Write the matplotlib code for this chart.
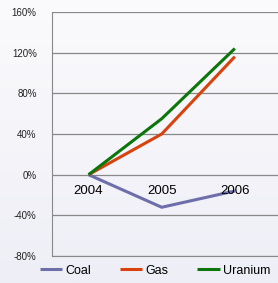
import matplotlib.pyplot as plt
import numpy as np

years = ["2004", "2005", "2006"]
coal = [0, -32, -16]
gas = [0, 40, 116]
uranium = [0, 55, 124]
yticks = [-80, -40, 0, 40, 80, 120, 160]

fig = plt.figure(figsize=(2.78, 2.83), dpi=100)
# faint bluish background like the slide
bg = fig.add_axes([0, 0, 1, 1], zorder=-10)
grad = np.linspace(0, 1, 256).reshape(-1, 1)
bg.imshow(grad, aspect="auto", cmap=plt.matplotlib.colors.LinearSegmentedColormap.from_list(
    "bg", ["#fbfbfd", "#eeeef6"]), extent=[0, 1, 0, 1])
bg.axis("off")

ax = fig.add_axes([0.187, 0.095, 0.813, 0.863])
ax.patch.set_alpha(0)
x = np.arange(len(years))
ax.plot(x, coal, color="#6e6eaa", lw=2.2, label="Coal", solid_capstyle="butt")
ax.plot(x, gas, color="#d8420c", lw=2.2, label="Gas", solid_capstyle="butt")
ax.plot(x, uranium, color="#0b760b", lw=2.2, label="Uranium", solid_capstyle="butt")

ax.set_ylim(-80, 160)
ax.set_xlim(-0.5, 2.59)
ax.set_yticks(yticks)
ax.set_yticklabels([f"{v}%" for v in yticks], fontsize=7, color="#222222",
                   family="Liberation Sans")
ax.tick_params(axis="y", length=0, pad=11)
ax.set_xticks([])
for v in yticks:
    ax.axhline(v, color="#888888", lw=0.9, zorder=0)
for i, yr in enumerate(years):
    ax.text(x[i], -10, yr, ha="center", va="top", fontsize=9.5, family="Liberation Sans")
for s in ["top", "right"]:
    ax.spines[s].set_visible(False)
ax.spines["left"].set_color("#888888")
ax.spines["bottom"].set_color("#888888")

ax.legend(loc="upper center", bbox_to_anchor=(0.455, -0.035), ncol=3, frameon=False,
          prop={"family": "Liberation Sans", "size": 9}, handlelength=1.8,
          columnspacing=2.3, handletextpad=0.25, borderaxespad=0, borderpad=0)

fig.savefig("out.png", dpi=100)
